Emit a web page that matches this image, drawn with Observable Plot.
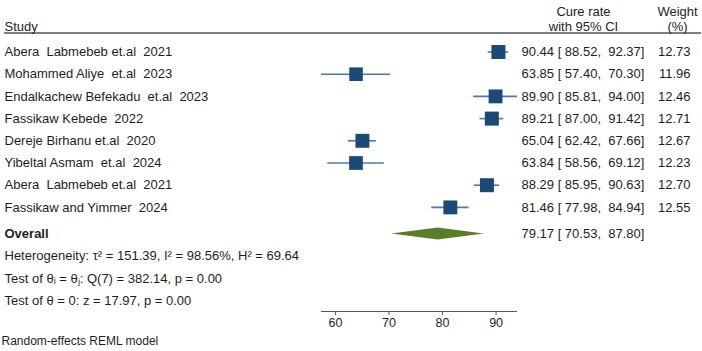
<!DOCTYPE html>
<html><head><meta charset="utf-8">
<script src="https://cdn.jsdelivr.net/npm/d3@7"></script>
<script src="https://cdn.jsdelivr.net/npm/@observablehq/plot@0.6"></script>
<style>
html,body{margin:0;padding:0;background:#fff;}
svg text{white-space:pre;}
</style></head><body><div id="chart"></div>
<script>
// ---- data ----
const studies = [
  "Abera  Labmebeb et.al  2021",
  "Mohammed Aliye  et.al  2023",
  "Endalkachew Befekadu  et.al  2023",
  "Fassikaw Kebede  2022",
  "Dereje Birhanu et.al  2020",
  "Yibeltal Asmam  et.al  2024",
  "Abera  Labmebeb et.al  2021",
  "Fassikaw and Yimmer  2024"
];
const estimates = [90.44, 63.85, 89.90, 89.21, 65.04, 63.84, 88.29, 81.46];
const lowers    = [88.52, 57.40, 85.81, 87.00, 62.42, 58.56, 85.95, 77.98];
const uppers    = [92.37, 70.30, 94.00, 91.42, 67.66, 69.12, 90.63, 84.94];
const weights   = [12.73, 11.96, 12.46, 12.71, 12.67, 12.23, 12.70, 12.55];
const overallLabel = "Overall";
const overallEst = 79.17, overallLower = 70.53, overallUpper = 87.80;
const statLines = [
  "Heterogeneity: \u03C4\u00B2 = 151.39, I\u00B2 = 98.56%, H\u00B2 = 69.64",
  "Test of \u03B8\u1D62 = \u03B8\u2C7C: Q(7) = 382.14, p = 0.00",
  "Test of \u03B8 = 0: z = 17.97, p = 0.00"
];
const xTicks = [60, 70, 80, 90];
const headerStudy = "Study";
const headerCI = ["Cure rate", "with 95% CI"];
const headerWeight = ["Weight", "(%)"];
const caption = "Random-effects REML model";

// ---- layout ----
const W = 702, H = 351;
const mLeft = 321, mRight = 185, mTop = 32.5, mBottom = 40;
const rowStep = 22.2, firstRow = 51.5;
const yTop = -(firstRow - mTop) / rowStep;
const yBottom = (H - mBottom - firstRow) / rowStep;
const font = "'Liberation Sans', Arial, Helvetica, sans-serif";
const txt = "#1e1e1e";
const fs = 13;

const fmtCI = (e, l, u) => `${e.toFixed(2)} [${l.toFixed(2).padStart(6)},${u.toFixed(2).padStart(7)}]`;

const rows = studies.map((s, i) => ({
  study: s, est: estimates[i], lo: lowers[i], hi: uppers[i], w: weights[i], y: i,
  ci: fmtCI(estimates[i], lowers[i], uppers[i]), wt: weights[i].toFixed(2)
}));
const yOverall = studies.length + 0.2;
const overallRow = [{label: overallLabel, y: yOverall, ci: fmtCI(overallEst, overallLower, overallUpper)}];
const statRows = statLines.map((t, i) => ({text: t, y: yOverall + 1 + i}));
const dh = 6 / rowStep;
const diamond = [
  {x: overallLower, y1: yOverall, y2: yOverall},
  {x: overallEst, y1: yOverall - dh, y2: yOverall + dh},
  {x: overallUpper, y1: yOverall, y2: yOverall}
];

const chart = Plot.plot({
  width: W, height: H,
  marginLeft: mLeft, marginRight: mRight, marginTop: mTop, marginBottom: mBottom,
  style: {fontFamily: font, background: "#fff", color: txt},
  x: {domain: [d3.min(lowers), d3.max(uppers)]},
  y: {domain: [yTop, yBottom], range: [mTop, H - mBottom], axis: null},
  r: {domain: [0, d3.max(weights)], range: [0, 7.9]},
  marks: [
    Plot.ruleY([yTop], {insetLeft: -(mLeft - 4), insetRight: -(mRight - 1), stroke: "#555", strokeWidth: 1.4}),
    Plot.ruleY([yBottom], {stroke: "#555", strokeWidth: 1.2}),
    Plot.axisX({ticks: xTicks, tickSize: 4, tickPadding: 3, fontSize: 12.5, stroke: "#555", fill: txt}),
    Plot.ruleY(rows, {y: "y", x1: "lo", x2: "hi", stroke: "#4f79aa", strokeWidth: 1.6}),
    Plot.dot(rows, {x: "est", y: "y", r: "w", symbol: "square", fill: "#1b4a78", stroke: "none"}),
    Plot.areaY(diamond, {x: "x", y1: "y1", y2: "y2", fill: "#5a7d2a", curve: "linear"}),
    // left column
    Plot.text([headerStudy], {frameAnchor: "top-left", dx: 4 - mLeft, dy: -11.5, textAnchor: "start", fontSize: fs, fill: txt}),
    Plot.text(rows, {y: "y", text: "study", frameAnchor: "left", dx: 4 - mLeft, textAnchor: "start", fontSize: fs, fill: txt}),
    Plot.text(overallRow, {y: "y", text: "label", frameAnchor: "left", dx: 4 - mLeft, textAnchor: "start", fontSize: fs, fontWeight: "bold", fill: txt}),
    Plot.text(statRows, {y: "y", text: "text", frameAnchor: "left", dx: 4 - mLeft, textAnchor: "start", fontSize: fs, fill: txt}),
    // CI column
    Plot.text([headerCI[0]], {frameAnchor: "top-right", dx: 66, dy: -26.5, textAnchor: "middle", fontSize: fs, fill: txt}),
    Plot.text([headerCI[1]], {frameAnchor: "top-right", dx: 66, dy: -11.5, textAnchor: "middle", fontSize: fs, fill: txt}),
    Plot.text(rows.concat(overallRow), {y: "y", text: "ci", frameAnchor: "right", dx: 4, textAnchor: "start", fontSize: fs, fill: txt}),
    // weight column
    Plot.text([headerWeight[0]], {frameAnchor: "top-right", dx: 160, dy: -26.5, textAnchor: "middle", fontSize: fs, fill: txt}),
    Plot.text([headerWeight[1]], {frameAnchor: "top-right", dx: 160, dy: -11.5, textAnchor: "middle", fontSize: fs, fill: txt}),
    Plot.text(rows, {y: "y", text: "wt", frameAnchor: "right", dx: 173, textAnchor: "end", fontSize: fs, fill: txt}),
    // caption
    Plot.text([caption], {frameAnchor: "bottom-left", dx: 1 - mLeft, dy: 33, textAnchor: "start", fontSize: 12, fill: txt})
  ]
});
document.getElementById("chart").appendChild(chart);
</script></body></html>
